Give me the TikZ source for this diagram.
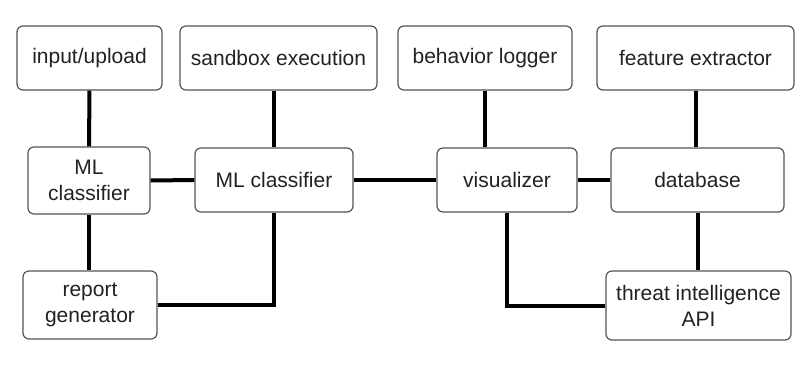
\documentclass[tikz,border=0pt]{standalone}
\usepackage{fontspec}
\setmainfont{Liberation Sans}
\usepackage{tikz}
\usetikzlibrary{positioning}

\definecolor{boxline}{HTML}{555555}
\definecolor{txt}{HTML}{222222}

\begin{document}
\begin{tikzpicture}[
        x=1pt, y=-1pt,
        box/.style = {
            draw=boxline,
            line width=1.2pt,
            rounded corners=6pt,
            fill=white,
            text=txt,
            align=center,
            font=\fontsize{21}{26}\selectfont,
            minimum width = #1,
            inner sep = 0pt
        },
        box/.default = 150pt,
        link/.style = {line width=4pt, black}
        ]
%
        \useasboundingbox (0,0) rectangle (809,372);
%
        \node[box=145pt, minimum height=64pt] (inp)  at (89.5,58)  {input/upload};
        \node[box=197pt, minimum height=64pt] (sbx)  at (278.5,58) {sandbox execution};
        \node[box=174pt, minimum height=64pt] (blog) at (485,58)   {behavior logger};
        \node[box=197pt, minimum height=64pt] (fext) at (695.5,58) {feature extractor};
%
        \node[box=122pt, minimum height=67pt] (mlA) at (89,180.5)  {ML\\classifier};
        \node[box=158pt, minimum height=64pt] (mlB) at (274,180)   {ML classifier};
        \node[box=140pt, minimum height=64pt] (vis) at (507,180)   {visualizer};
        \node[box=173pt, minimum height=64pt] (db)  at (697.5,180) {database};
%
        \node[box=134pt, minimum height=68pt] (rep) at (90,305)    {report\\generator};
        \node[box=185pt, minimum height=69pt] (tia) at (698.5,305.5) {threat intelligence\\API};
%
        \draw[link] (inp.south) -- (mlA.north);
        \draw[link] (mlB.north) -- (mlB.north |- sbx.south);
        \draw[link] (blog.south) -- (blog.south |- vis.north);
        \draw[link] (fext.south) -- (fext.south |- db.north);
%
        \draw[link] (mlA.east) -- (mlB.west);
        \draw[link] (mlB.east) -- (vis.west);
        \draw[link] (vis.east) -- (db.west);
%
        \draw[link] (mlA.south) -- (rep.north -| mlA.south);
        \draw[link] (rep.east) -| (mlB.south);
        \draw[link] (vis.south) |- (tia.west);
        \draw[link] (db.south) -- (tia.north -| db.south);
%
    \end{tikzpicture}
\end{document}
